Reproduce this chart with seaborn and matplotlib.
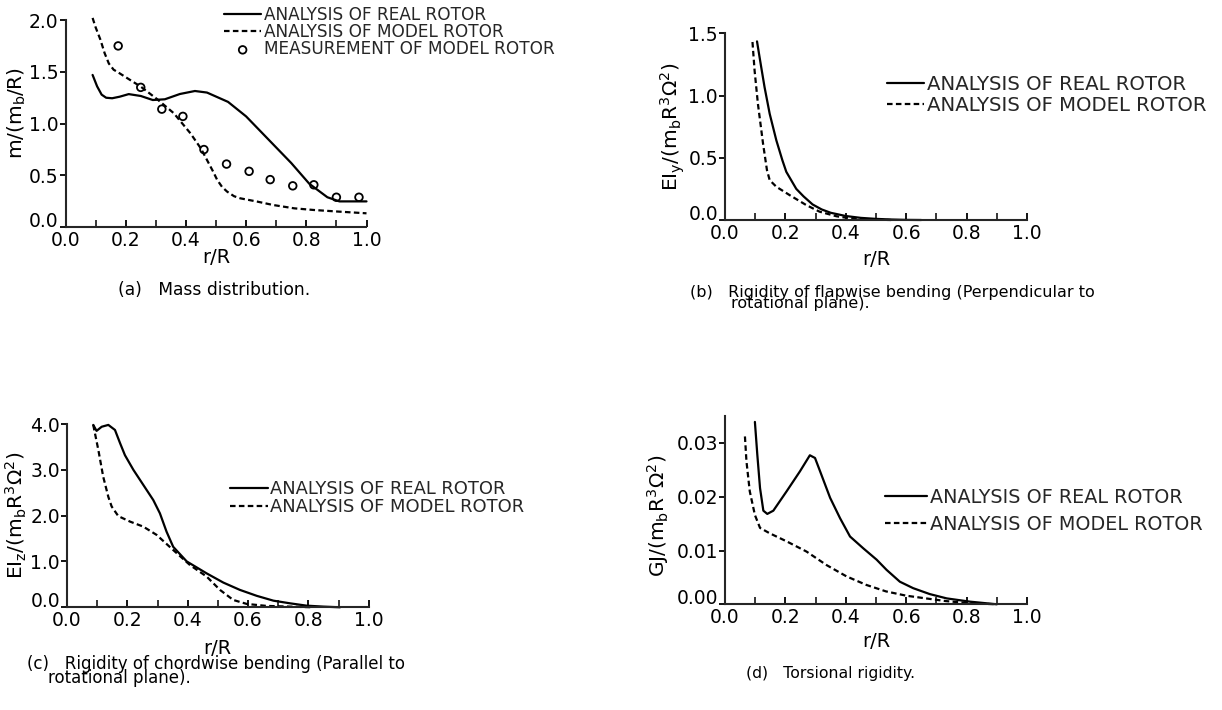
import numpy as np
import pandas as pd
import seaborn as sns
import matplotlib.pyplot as plt
from matplotlib.ticker import MultipleLocator, FormatStrFormatter

# (a) mass distribution
mass_r_real = [0.09, 0.105, 0.12, 0.135, 0.155, 0.18, 0.21, 0.25, 0.29, 0.33, 0.38, 0.43, 0.47, 0.54, 0.60, 0.67,
               0.75, 0.81, 0.87, 0.91, 1.0]
mass_real = [1.47, 1.36, 1.28, 1.25, 1.245, 1.26, 1.285, 1.267, 1.228, 1.235, 1.286, 1.315, 1.30, 1.21, 1.07, 0.86,
             0.62, 0.42, 0.29, 0.25, 0.25]
mass_r_model = [0.09, 0.10, 0.116, 0.13, 0.144, 0.16, 0.172, 0.21, 0.25, 0.305, 0.36, 0.415, 0.45, 0.47, 0.49,
                0.504, 0.52, 0.537, 0.56, 0.58, 0.637, 0.69, 0.76, 0.825, 0.91, 1.0]
mass_model = [2.02, 1.93, 1.81, 1.68, 1.58, 1.52, 1.50, 1.43, 1.357, 1.235, 1.10, 0.907, 0.76, 0.65, 0.54,
              0.457, 0.39, 0.344, 0.30, 0.28, 0.248, 0.215, 0.183, 0.167, 0.151, 0.135]
mass_r_meas = [0.175, 0.25, 0.32, 0.39, 0.46, 0.535, 0.61, 0.68, 0.755, 0.825, 0.90, 0.975]
mass_meas = [1.75, 1.35, 1.14, 1.07, 0.75, 0.61, 0.54, 0.46, 0.40, 0.41, 0.29, 0.29]

# (b) flapwise bending rigidity
eiy_r_real = [0.106, 0.113, 0.12, 0.131, 0.148, 0.17, 0.19, 0.203, 0.236, 0.26, 0.29, 0.32, 0.35, 0.40, 0.45,
              0.50, 0.55, 0.60, 0.65]
eiy_real = [1.435, 1.33, 1.227, 1.067, 0.853, 0.64, 0.48, 0.387, 0.25, 0.19, 0.125, 0.085, 0.058, 0.032, 0.017,
            0.009, 0.004, 0.001, 0.0]
eiy_r_model = [0.091, 0.098, 0.109, 0.126, 0.139, 0.148, 0.17, 0.214, 0.269, 0.313, 0.369, 0.424, 0.48, 0.55]
eiy_model = [1.43, 1.20, 0.933, 0.613, 0.40, 0.32, 0.267, 0.20, 0.12, 0.067, 0.03, 0.01, 0.003, 0.0]

# (c) chordwise bending rigidity
eiz_r_real = [0.087, 0.098, 0.115, 0.137, 0.159, 0.176, 0.192, 0.22, 0.253, 0.286, 0.308, 0.33, 0.352, 0.397,
              0.463, 0.518, 0.573, 0.629, 0.684, 0.739, 0.794, 0.85, 0.905]
eiz_real = [3.98, 3.85, 3.94, 3.98, 3.87, 3.58, 3.32, 3.0, 2.67, 2.34, 2.05, 1.65, 1.32, 1.0,
            0.74, 0.54, 0.38, 0.25, 0.145, 0.087, 0.036, 0.015, 0.0]
eiz_r_model = [0.087, 0.104, 0.12, 0.137, 0.148, 0.17, 0.209, 0.253, 0.297, 0.352, 0.408, 0.463, 0.507, 0.551,
               0.596, 0.662, 0.739, 0.817]
eiz_model = [3.98, 3.43, 2.85, 2.41, 2.2, 1.99, 1.87, 1.76, 1.58, 1.25, 0.92, 0.67, 0.38, 0.16,
             0.073, 0.03, 0.015, 0.0]

# (d) torsional rigidity
gj_r_real = [0.099, 0.107, 0.116, 0.127, 0.14, 0.16, 0.204, 0.248, 0.281, 0.298, 0.315, 0.348, 0.381, 0.414,
             0.458, 0.502, 0.535, 0.579, 0.623, 0.678, 0.734, 0.81, 0.9]
gj_real = [0.0339, 0.0278, 0.0216, 0.0174, 0.0168, 0.0174, 0.021, 0.0247, 0.0277, 0.0272, 0.0247, 0.0198, 0.016,
           0.0126, 0.0104, 0.0083, 0.0064, 0.0042, 0.003, 0.0019, 0.0011, 0.0005, 0.0]
gj_r_model = [0.066, 0.071, 0.082, 0.099, 0.116, 0.148, 0.204, 0.27, 0.336, 0.402, 0.468, 0.533, 0.6, 0.665,
              0.731, 0.81, 0.9]
gj_model = [0.0312, 0.0266, 0.021, 0.0166, 0.0142, 0.0132, 0.0117, 0.0098, 0.0073, 0.0052, 0.0036, 0.0024,
            0.0016, 0.0011, 0.0006, 0.0002, 0.0]

lbl_real = 'ANALYSIS OF REAL ROTOR'
lbl_model = 'ANALYSIS OF MODEL ROTOR'
lbl_meas = 'MEASUREMENT OF MODEL ROTOR'

sns.set_theme(style='ticks')
plt.rcParams['font.family'] = ['DejaVu Sans']
plt.rcParams['mathtext.fontset'] = 'dejavusans'
plt.rcParams['mathtext.default'] = 'regular'
plt.rcParams['axes.linewidth'] = 1.5
plt.rcParams['xtick.direction'] = 'in'
plt.rcParams['ytick.direction'] = 'out'

W, H = 1222, 710
fig = plt.figure(figsize=(W / 100, H / 100), dpi=100)
fig.patch.set_facecolor('white')

dash = (0, (2.5, 1.5))


def px_axes(x0, x1, y_top, y_bot):
    # axes box from pixel coordinates of the reference
    return fig.add_axes([x0 / W, 1 - y_bot / H, (x1 - x0) / W, (y_bot - y_top) / H])


def style(ax, ymax, ystep, yfmt, ylabel, xpad):
    ax.set_xlim(0, 1.0)
    ax.set_ylim(0, ymax)
    ax.xaxis.set_major_locator(MultipleLocator(0.2))
    ax.xaxis.set_minor_locator(MultipleLocator(0.1))
    ax.xaxis.set_major_formatter(FormatStrFormatter('%.1f'))
    ax.yaxis.set_major_locator(MultipleLocator(ystep))
    ax.yaxis.set_major_formatter(FormatStrFormatter(yfmt))
    ax.tick_params(axis='x', which='major', length=5, width=1.3, pad=3, labelsize=13.5, colors='black')
    ax.tick_params(axis='x', which='minor', length=5, width=1.3)
    ax.tick_params(axis='y', length=4, width=1.3, pad=1, labelsize=13.5, colors='black')
    sns.despine(ax=ax)
    ax.set_xlabel('r/R', fontsize=14, labelpad=xpad, color='black')
    ax.set_ylabel(ylabel, fontsize=14.5, labelpad=1, color='black')
    ax.set_facecolor('white')
    # the zero label sits just above the axis line in the original
    locs = ax.yaxis.get_majorticklocs()
    ticks = ax.yaxis.get_major_ticks(len(locs))
    ticks[int(np.argmin(np.abs(locs)))].label1.set_verticalalignment('baseline')


def legend(ax, x, y, hl, spacing, size):
    ax.legend(loc='upper left', bbox_to_anchor=(x / W, 1 - y / H), bbox_transform=fig.transFigure,
              frameon=False, borderpad=0, borderaxespad=0, handlelength=hl, handletextpad=0.15,
              labelspacing=spacing, fontsize=size)


# (a)
ax_a = px_axes(65.5, 366.5, 20, 227.3)
sns.lineplot(x=mass_r_real, y=mass_real, ax=ax_a, color='black', lw=1.6, label=lbl_real, clip_on=False)
sns.lineplot(x=mass_r_model, y=mass_model, ax=ax_a, color='black', lw=1.6, linestyle=dash, label=lbl_model,
             clip_on=False)
sns.scatterplot(x=mass_r_meas, y=mass_meas, ax=ax_a, marker='o', s=30, facecolors='none', edgecolor='black',
                linewidth=1.3, label=lbl_meas, zorder=3)
style(ax_a, 2.0, 0.5, '%.1f', r'm/(m$_b$/R)', -2)
ax_a.yaxis.set_label_coords(-0.125, 0.551)
legend(ax_a, 224, 6, 2.2, -0.05, 12.2)

# (b)
ax_b = px_axes(725, 1027, 33.3, 220)
sns.lineplot(x=eiy_r_real, y=eiy_real, ax=ax_b, color='black', lw=1.6, label=lbl_real, clip_on=False)
sns.lineplot(x=eiy_r_model, y=eiy_model, ax=ax_b, color='black', lw=1.6, linestyle=dash, label=lbl_model,
             clip_on=False)
style(ax_b, 1.5, 0.5, '%.1f', r'EI$_y$/(m$_b$R$^3\Omega^2$)', 5)
legend(ax_b, 887, 75, 1.9, 0.1, 14.2)

# (c)
ax_c = px_axes(67, 368.7, 424, 607.3)
sns.lineplot(x=eiz_r_real, y=eiz_real, ax=ax_c, color='black', lw=1.6, label=lbl_real, clip_on=False)
sns.lineplot(x=eiz_r_model, y=eiz_model, ax=ax_c, color='black', lw=1.6, linestyle=dash, label=lbl_model,
             clip_on=False)
style(ax_c, 4.0, 1.0, '%.1f', r'EI$_z$/(m$_b$R$^3\Omega^2$)', 6)
legend(ax_c, 230, 480, 2.1, 0.0, 12.9)

# (d)
ax_d = px_axes(725, 1027, 416, 604.3)
sns.lineplot(x=gj_r_real, y=gj_real, ax=ax_d, color='black', lw=1.6, label=lbl_real, clip_on=False)
sns.lineplot(x=gj_r_model, y=gj_model, ax=ax_d, color='black', lw=1.6, linestyle=dash, label=lbl_model,
             clip_on=False)
style(ax_d, 0.035, 0.01, '%.2f', r'GJ/(m$_b$R$^3\Omega^2$)', 3)
ax_d.yaxis.set_label_coords(-0.178, 0.469)
legend(ax_d, 885, 488, 2.2, 0.4, 13.8)

# captions (va='baseline' on a two-line text aligns its last line)
cap = dict(color='black', va='baseline', linespacing=0.68)
fig.text(118 / W, 1 - 295 / H, '(a)   Mass distribution.', fontsize=12.3, **cap)
fig.text(690 / W, 1 - 308 / H, '(b)   Rigidity of flapwise bending (Perpendicular to\n'
                               '        rotational plane).', fontsize=11.5, **cap)
fig.text(27 / W, 1 - 683 / H, '(c)   Rigidity of chordwise bending (Parallel to\n'
                              '    rotational plane).', fontsize=12.0, **cap)
fig.text(746 / W, 1 - 678 / H, '(d)   Torsional rigidity.', fontsize=11.3, **cap)

fig.savefig('out.png', dpi=100, facecolor='white')
